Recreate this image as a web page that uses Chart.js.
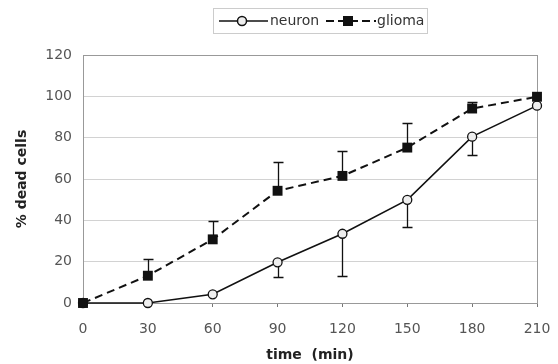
<!DOCTYPE html>
<html>
<head>
<meta charset="utf-8">
<script src="https://cdn.jsdelivr.net/npm/chart.js@4.4.1/dist/chart.umd.min.js"></script>
<style>
  html, body { margin: 0; padding: 0; background: #fff; }
</style>
</head>
<body>
<canvas id="chart" width="558" height="364"></canvas>
<script>
const times = [0, 30, 60, 90, 120, 150, 180, 210];
const neuron = [0, 0, 4.2, 19.7, 33.5, 49.9, 80.5, 95.5];
const neuronErr = [0, 0, 0, 7.3, 20.5, 13, 8.7, 0];   // lower error bars
const glioma = [0, 13.2, 30.8, 54.3, 61.5, 75.2, 94.1, 99.8];
const gliomaErr = [0, 8, 9, 14, 12, 12, 3, 0];        // upper error bars
const xTicks = [0, 30, 60, 90, 120, 150, 180, 210];
const yTicks = [0, 20, 40, 60, 80, 100, 120];
const seriesNames = ['neuron', 'glioma'];

const FONT = 'DejaVu Sans';

// frame + error bars, drawn under the lines and markers
const errorBars = {
  id: 'errorBars',
  beforeDatasetsDraw(chart) {
    const { ctx, chartArea: a, scales: { x, y } } = chart;
    ctx.save();
    ctx.strokeStyle = '#999';
    ctx.lineWidth = 1;
    ctx.strokeRect(Math.round(a.left) + 0.5, Math.round(a.top) + 0.5,
      Math.round(a.width), Math.round(a.height));

    ctx.strokeStyle = '#111';
    ctx.lineWidth = 1.3;
    chart.data.datasets.forEach(ds => {
      ds.err.forEach((e, i) => {
        if (!e) return;
        const v = ds.data[i].y;
        const px = Math.round(x.getPixelForValue(ds.data[i].x)) + 0.5;
        const y0 = y.getPixelForValue(v);
        const y1 = Math.round(y.getPixelForValue(v + ds.dir * e)) + 0.5;
        ctx.beginPath();
        ctx.moveTo(px, y0);
        ctx.lineTo(px, y1);
        ctx.moveTo(px - 5, y1);
        ctx.lineTo(px + 5, y1);
        ctx.stroke();
      });
    });
    ctx.restore();
  }
};

// boxed legend on top, in the style of the original
const boxLegend = {
  id: 'boxLegend',
  afterDraw(chart) {
    const ctx = chart.ctx;
    ctx.save();
    ctx.strokeStyle = '#ccc';
    ctx.lineWidth = 1;
    ctx.strokeRect(213.5, 8.5, 214, 25);
    const cy = 21;

    ctx.strokeStyle = '#111';
    ctx.lineWidth = 1.5;
    ctx.beginPath();
    ctx.moveTo(219, cy);
    ctx.lineTo(268, cy);
    ctx.stroke();
    ctx.beginPath();
    ctx.arc(242, cy, 4.5, 0, Math.PI * 2);
    ctx.fillStyle = '#eeeeee';
    ctx.fill();
    ctx.stroke();

    ctx.setLineDash([8, 4]);
    ctx.lineWidth = 2;
    ctx.beginPath();
    ctx.moveTo(326, cy);
    ctx.lineTo(376, cy);
    ctx.stroke();
    ctx.setLineDash([]);
    ctx.fillStyle = '#111';
    ctx.fillRect(343, cy - 5, 10, 10);

    ctx.fillStyle = '#333';
    ctx.font = '14px ' + FONT;
    ctx.textBaseline = 'middle';
    ctx.fillText(seriesNames[0], 270, cy);
    ctx.fillText(seriesNames[1], 377, cy);
    ctx.restore();
  }
};

const toPoints = vals => vals.map((v, i) => ({ x: times[i], y: v }));

new Chart(document.getElementById('chart'), {
  type: 'line',
  data: {
    datasets: [{
      label: seriesNames[0],
      data: toPoints(neuron),
      err: neuronErr,
      dir: -1,
      order: 1,
      borderColor: '#111',
      borderWidth: 1.6,
      pointStyle: 'circle',
      pointRadius: 4.5,
      pointBackgroundColor: '#eeeeee',
      pointBorderColor: '#111',
      pointBorderWidth: 1.3,
      tension: 0,
      clip: false
    }, {
      label: seriesNames[1],
      data: toPoints(glioma),
      err: gliomaErr,
      dir: 1,
      order: 0,
      borderColor: '#111',
      borderWidth: 2,
      borderDash: [8, 5],
      pointStyle: 'rect',
      pointRadius: 7,
      pointBackgroundColor: '#111',
      pointBorderColor: '#111',
      pointBorderWidth: 0,
      tension: 0,
      clip: false
    }]
  },
  options: {
    responsive: false,
    animation: false,
    layout: { padding: { top: 55, right: 21, left: 0, bottom: 0 } },
    plugins: {
      legend: { display: false },
      tooltip: { enabled: false }
    },
    scales: {
      x: {
        type: 'linear',
        min: 0,
        max: 210,
        afterBuildTicks: s => { s.ticks = xTicks.map(v => ({ value: v })); },
        afterFit: s => { s.height = 61; s.paddingLeft = 0; s.paddingRight = 0; },
        grid: { drawOnChartArea: false, drawTicks: true, tickLength: 4, color: '#777' },
        border: { color: '#555', width: 1 },
        ticks: { color: '#555', padding: 14, font: { family: FONT, size: 14 }, maxRotation: 0 },
        title: {
          display: true,
          text: 'time  (min)',
          color: '#222',
          font: { family: FONT, size: 14, weight: 'bold' },
          padding: { top: 0, bottom: 0 }
        }
      },
      y: {
        min: 0,
        max: 120,
        afterBuildTicks: s => { s.ticks = yTicks.map(v => ({ value: v })); },
        afterFit: s => { s.width = 83; s.paddingTop = 0; s.paddingBottom = 0; },
        grid: { drawTicks: false, color: '#d2d2d2', lineWidth: 1 },
        border: { color: '#555', width: 1 },
        ticks: { color: '#555', padding: 11, font: { family: FONT, size: 14 } },
        title: {
          display: true,
          text: '% dead cells',
          color: '#222',
          font: { family: FONT, size: 14, weight: 'bold' },
          padding: { top: 14, bottom: 0 }
        }
      }
    }
  },
  plugins: [errorBars, boxLegend]
});
</script>
</body>
</html>
